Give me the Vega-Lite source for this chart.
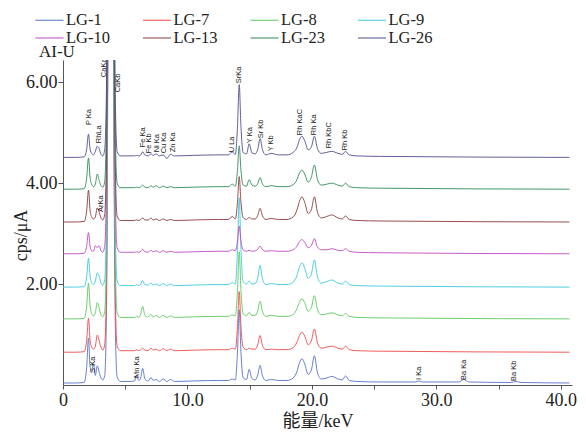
{
"$schema":"https://vega.github.io/schema/vega-lite/v6.json",
"width":509,"height":325,
"autosize":{"type":"none"},
"padding":{"left":63,"top":60,"right":14,"bottom":47},
"config":{"view":{"stroke":null},"font":"Liberation Serif","legend":{"labelFont":"Liberation Serif"}},
"title":{"text":"AI-U","anchor":"start","frame":"group","offset":-50,"dx":-24,"font":"Liberation Serif","fontSize":17,"fontWeight":"normal","color":"#222"},
"datasets":{
"spec":[
{"s":"LG-1","e":0,"c":0.04},{"s":"LG-1","e":1,"c":0.04},{"s":"LG-1","e":1.7,"c":0.05},{"s":"LG-1","e":1.9,"c":0.35},{"s":"LG-1","e":2.05,"c":0.93},{"s":"LG-1","e":2.18,"c":0.35},{"s":"LG-1","e":2.3,"c":0.29},{"s":"LG-1","e":2.45,"c":0.42},{"s":"LG-1","e":2.6,"c":0.19},{"s":"LG-1","e":2.75,"c":0.38},
{"s":"LG-1","e":2.9,"c":0.26},{"s":"LG-1","e":3.05,"c":0.14},{"s":"LG-1","e":3.2,"c":0.10},{"s":"LG-1","e":3.35,"c":0.19},{"s":"LG-1","e":3.5,"c":1.54},{"s":"LG-1","e":3.6,"c":6.04},{"s":"LG-1","e":3.69,"c":10.04},{"s":"LG-1","e":3.85,"c":7.54},{"s":"LG-1","e":4.01,"c":9.04},{"s":"LG-1","e":4.12,"c":3.54},
{"s":"LG-1","e":4.22,"c":0.94},{"s":"LG-1","e":4.35,"c":0.16},{"s":"LG-1","e":4.6,"c":0.07},{"s":"LG-1","e":5.3,"c":0.07},{"s":"LG-1","e":5.75,"c":0.08},{"s":"LG-1","e":5.9,"c":0.19},{"s":"LG-1","e":6.1,"c":0.09},{"s":"LG-1","e":6.25,"c":0.15},{"s":"LG-1","e":6.4,"c":0.33},{"s":"LG-1","e":6.58,"c":0.12},
{"s":"LG-1","e":6.85,"c":0.08},{"s":"LG-1","e":7.06,"c":0.15},{"s":"LG-1","e":7.25,"c":0.09},{"s":"LG-1","e":7.48,"c":0.11},{"s":"LG-1","e":7.75,"c":0.07},{"s":"LG-1","e":8.05,"c":0.12},{"s":"LG-1","e":8.35,"c":0.07},{"s":"LG-1","e":8.64,"c":0.11},{"s":"LG-1","e":8.95,"c":0.07},{"s":"LG-1","e":10.5,"c":0.08},
{"s":"LG-1","e":12.5,"c":0.09},{"s":"LG-1","e":13.3,"c":0.09},{"s":"LG-1","e":13.6,"c":0.12},{"s":"LG-1","e":13.85,"c":0.10},{"s":"LG-1","e":14.02,"c":0.65},{"s":"LG-1","e":14.16,"c":1.49},{"s":"LG-1","e":14.3,"c":0.65},{"s":"LG-1","e":14.47,"c":0.14},{"s":"LG-1","e":14.75,"c":0.11},{"s":"LG-1","e":14.96,"c":0.31},
{"s":"LG-1","e":15.18,"c":0.13},{"s":"LG-1","e":15.45,"c":0.10},{"s":"LG-1","e":15.65,"c":0.20},{"s":"LG-1","e":15.84,"c":0.39},{"s":"LG-1","e":16.03,"c":0.18},{"s":"LG-1","e":16.3,"c":0.09},{"s":"LG-1","e":16.74,"c":0.11},{"s":"LG-1","e":17.3,"c":0.09},{"s":"LG-1","e":18,"c":0.09},{"s":"LG-1","e":18.5,"c":0.14},
{"s":"LG-1","e":18.8,"c":0.27},{"s":"LG-1","e":19,"c":0.44},{"s":"LG-1","e":19.2,"c":0.52},{"s":"LG-1","e":19.42,"c":0.42},{"s":"LG-1","e":19.7,"c":0.21},{"s":"LG-1","e":19.95,"c":0.29},{"s":"LG-1","e":20.2,"c":0.58},{"s":"LG-1","e":20.45,"c":0.24},{"s":"LG-1","e":20.75,"c":0.12},{"s":"LG-1","e":21.2,"c":0.14},
{"s":"LG-1","e":21.6,"c":0.17},{"s":"LG-1","e":22.1,"c":0.12},{"s":"LG-1","e":22.45,"c":0.10},{"s":"LG-1","e":22.7,"c":0.18},{"s":"LG-1","e":23,"c":0.09},{"s":"LG-1","e":23.6,"c":0.07},{"s":"LG-1","e":25.5,"c":0.06},
{"s":"LG-1","e":28.3,"c":0.06},{"s":"LG-1","e":28.6,"c":0.08},{"s":"LG-1","e":28.9,"c":0.06},{"s":"LG-1","e":31.8,"c":0.06},{"s":"LG-1","e":32.2,"c":0.11},{"s":"LG-1","e":32.6,"c":0.06},{"s":"LG-1","e":36,"c":0.05},{"s":"LG-1","e":36.4,"c":0.07},{"s":"LG-1","e":36.8,"c":0.05},{"s":"LG-1","e":40.7,"c":0.04},

{"s":"LG-7","e":0,"c":0.65},{"s":"LG-7","e":1,"c":0.65},{"s":"LG-7","e":1.7,"c":0.66},{"s":"LG-7","e":1.9,"c":0.88},{"s":"LG-7","e":2.05,"c":1.32},{"s":"LG-7","e":2.18,"c":0.88},{"s":"LG-7","e":2.3,"c":0.75},{"s":"LG-7","e":2.45,"c":0.71},{"s":"LG-7","e":2.6,"c":0.77},{"s":"LG-7","e":2.75,"c":0.99},
{"s":"LG-7","e":2.9,"c":0.89},{"s":"LG-7","e":3.05,"c":0.75},{"s":"LG-7","e":3.2,"c":0.69},{"s":"LG-7","e":3.35,"c":0.80},{"s":"LG-7","e":3.5,"c":2.15},{"s":"LG-7","e":3.6,"c":6.65},{"s":"LG-7","e":3.69,"c":10.65},{"s":"LG-7","e":3.85,"c":8.15},{"s":"LG-7","e":4.01,"c":9.65},{"s":"LG-7","e":4.12,"c":4.15},
{"s":"LG-7","e":4.22,"c":1.55},{"s":"LG-7","e":4.35,"c":0.77},{"s":"LG-7","e":4.6,"c":0.68},{"s":"LG-7","e":5.3,"c":0.68},{"s":"LG-7","e":5.75,"c":0.68},{"s":"LG-7","e":5.9,"c":0.70},{"s":"LG-7","e":6.1,"c":0.68},{"s":"LG-7","e":6.25,"c":0.70},{"s":"LG-7","e":6.4,"c":0.73},{"s":"LG-7","e":6.58,"c":0.69},
{"s":"LG-7","e":6.85,"c":0.68},{"s":"LG-7","e":7.06,"c":0.73},{"s":"LG-7","e":7.25,"c":0.69},{"s":"LG-7","e":7.48,"c":0.71},{"s":"LG-7","e":7.75,"c":0.68},{"s":"LG-7","e":8.05,"c":0.72},{"s":"LG-7","e":8.35,"c":0.68},{"s":"LG-7","e":8.64,"c":0.71},{"s":"LG-7","e":8.95,"c":0.68},{"s":"LG-7","e":10.5,"c":0.69},
{"s":"LG-7","e":12.5,"c":0.70},{"s":"LG-7","e":13.3,"c":0.70},{"s":"LG-7","e":13.6,"c":0.73},{"s":"LG-7","e":13.85,"c":0.71},{"s":"LG-7","e":14.02,"c":1.16},{"s":"LG-7","e":14.16,"c":1.85},{"s":"LG-7","e":14.3,"c":1.16},{"s":"LG-7","e":14.47,"c":0.75},{"s":"LG-7","e":14.75,"c":0.70},{"s":"LG-7","e":14.96,"c":0.73},
{"s":"LG-7","e":15.18,"c":0.71},{"s":"LG-7","e":15.45,"c":0.71},{"s":"LG-7","e":15.65,"c":0.80},{"s":"LG-7","e":15.84,"c":0.98},{"s":"LG-7","e":16.03,"c":0.78},{"s":"LG-7","e":16.3,"c":0.70},{"s":"LG-7","e":16.74,"c":0.71},{"s":"LG-7","e":17.3,"c":0.70},{"s":"LG-7","e":18,"c":0.70},{"s":"LG-7","e":18.5,"c":0.74},
{"s":"LG-7","e":18.8,"c":0.85},{"s":"LG-7","e":19,"c":0.98},{"s":"LG-7","e":19.2,"c":1.05},{"s":"LG-7","e":19.42,"c":0.97},{"s":"LG-7","e":19.7,"c":0.80},{"s":"LG-7","e":19.95,"c":0.87},{"s":"LG-7","e":20.2,"c":1.11},{"s":"LG-7","e":20.45,"c":0.83},{"s":"LG-7","e":20.75,"c":0.73},{"s":"LG-7","e":21.2,"c":0.75},
{"s":"LG-7","e":21.6,"c":0.77},{"s":"LG-7","e":22.1,"c":0.73},{"s":"LG-7","e":22.45,"c":0.71},{"s":"LG-7","e":22.7,"c":0.77},{"s":"LG-7","e":23,"c":0.70},{"s":"LG-7","e":23.6,"c":0.68},{"s":"LG-7","e":25.5,"c":0.67},{"s":"LG-7","e":40.7,"c":0.65},

{"s":"LG-8","e":0,"c":1.31},{"s":"LG-8","e":1,"c":1.31},{"s":"LG-8","e":1.7,"c":1.32},{"s":"LG-8","e":1.9,"c":1.56},{"s":"LG-8","e":2.05,"c":2.02},{"s":"LG-8","e":2.18,"c":1.56},{"s":"LG-8","e":2.3,"c":1.41},{"s":"LG-8","e":2.45,"c":1.37},{"s":"LG-8","e":2.6,"c":1.43},{"s":"LG-8","e":2.75,"c":1.63},
{"s":"LG-8","e":2.9,"c":1.53},{"s":"LG-8","e":3.05,"c":1.39},{"s":"LG-8","e":3.2,"c":1.35},{"s":"LG-8","e":3.35,"c":1.46},{"s":"LG-8","e":3.5,"c":2.81},{"s":"LG-8","e":3.6,"c":7.31},{"s":"LG-8","e":3.69,"c":11.31},{"s":"LG-8","e":3.85,"c":8.81},{"s":"LG-8","e":4.01,"c":10.31},{"s":"LG-8","e":4.12,"c":4.81},
{"s":"LG-8","e":4.22,"c":2.21},{"s":"LG-8","e":4.35,"c":1.43},{"s":"LG-8","e":4.6,"c":1.34},{"s":"LG-8","e":5.3,"c":1.34},{"s":"LG-8","e":5.75,"c":1.34},{"s":"LG-8","e":5.9,"c":1.36},{"s":"LG-8","e":6.1,"c":1.34},{"s":"LG-8","e":6.25,"c":1.41},{"s":"LG-8","e":6.4,"c":1.56},{"s":"LG-8","e":6.58,"c":1.38},
{"s":"LG-8","e":6.85,"c":1.35},{"s":"LG-8","e":7.06,"c":1.40},{"s":"LG-8","e":7.25,"c":1.35},{"s":"LG-8","e":7.48,"c":1.38},{"s":"LG-8","e":7.75,"c":1.34},{"s":"LG-8","e":8.05,"c":1.38},{"s":"LG-8","e":8.35,"c":1.34},{"s":"LG-8","e":8.64,"c":1.37},{"s":"LG-8","e":8.95,"c":1.34},{"s":"LG-8","e":10.5,"c":1.35},
{"s":"LG-8","e":12.5,"c":1.36},{"s":"LG-8","e":13.3,"c":1.36},{"s":"LG-8","e":13.6,"c":1.39},{"s":"LG-8","e":13.85,"c":1.37},{"s":"LG-8","e":14.02,"c":1.87},{"s":"LG-8","e":14.16,"c":2.64},{"s":"LG-8","e":14.3,"c":1.87},{"s":"LG-8","e":14.47,"c":1.41},{"s":"LG-8","e":14.75,"c":1.37},{"s":"LG-8","e":14.96,"c":1.44},
{"s":"LG-8","e":15.18,"c":1.38},{"s":"LG-8","e":15.45,"c":1.38},{"s":"LG-8","e":15.65,"c":1.47},{"s":"LG-8","e":15.84,"c":1.66},{"s":"LG-8","e":16.03,"c":1.45},{"s":"LG-8","e":16.3,"c":1.36},{"s":"LG-8","e":16.74,"c":1.38},{"s":"LG-8","e":17.3,"c":1.36},{"s":"LG-8","e":18,"c":1.36},{"s":"LG-8","e":18.5,"c":1.40},
{"s":"LG-8","e":18.8,"c":1.51},{"s":"LG-8","e":19,"c":1.64},{"s":"LG-8","e":19.2,"c":1.71},{"s":"LG-8","e":19.42,"c":1.63},{"s":"LG-8","e":19.7,"c":1.46},{"s":"LG-8","e":19.95,"c":1.53},{"s":"LG-8","e":20.2,"c":1.77},{"s":"LG-8","e":20.45,"c":1.49},{"s":"LG-8","e":20.75,"c":1.39},{"s":"LG-8","e":21.2,"c":1.41},
{"s":"LG-8","e":21.6,"c":1.43},{"s":"LG-8","e":22.1,"c":1.39},{"s":"LG-8","e":22.45,"c":1.37},{"s":"LG-8","e":22.7,"c":1.42},{"s":"LG-8","e":23,"c":1.36},{"s":"LG-8","e":23.6,"c":1.34},{"s":"LG-8","e":25.5,"c":1.33},{"s":"LG-8","e":40.7,"c":1.31},

{"s":"LG-9","e":0,"c":1.94},{"s":"LG-9","e":1,"c":1.94},{"s":"LG-9","e":1.7,"c":1.95},{"s":"LG-9","e":1.9,"c":2.14},{"s":"LG-9","e":2.05,"c":2.51},{"s":"LG-9","e":2.18,"c":2.14},{"s":"LG-9","e":2.3,"c":2.03},{"s":"LG-9","e":2.45,"c":1.99},{"s":"LG-9","e":2.6,"c":2.06},{"s":"LG-9","e":2.75,"c":2.22},
{"s":"LG-9","e":2.9,"c":2.16},{"s":"LG-9","e":3.05,"c":2.02},{"s":"LG-9","e":3.2,"c":1.98},{"s":"LG-9","e":3.35,"c":2.09},{"s":"LG-9","e":3.5,"c":3.44},{"s":"LG-9","e":3.6,"c":7.94},{"s":"LG-9","e":3.69,"c":11.94},{"s":"LG-9","e":3.85,"c":9.44},{"s":"LG-9","e":4.01,"c":10.94},{"s":"LG-9","e":4.12,"c":5.44},
{"s":"LG-9","e":4.22,"c":2.84},{"s":"LG-9","e":4.35,"c":2.06},{"s":"LG-9","e":4.6,"c":1.97},{"s":"LG-9","e":5.3,"c":1.97},{"s":"LG-9","e":5.75,"c":1.97},{"s":"LG-9","e":5.9,"c":1.99},{"s":"LG-9","e":6.1,"c":1.97},{"s":"LG-9","e":6.25,"c":2.00},{"s":"LG-9","e":6.4,"c":2.07},{"s":"LG-9","e":6.58,"c":1.99},
{"s":"LG-9","e":6.85,"c":1.98},{"s":"LG-9","e":7.06,"c":2.02},{"s":"LG-9","e":7.25,"c":1.98},{"s":"LG-9","e":7.48,"c":2.00},{"s":"LG-9","e":7.75,"c":1.97},{"s":"LG-9","e":8.05,"c":2.01},{"s":"LG-9","e":8.35,"c":1.97},{"s":"LG-9","e":8.64,"c":2.00},{"s":"LG-9","e":8.95,"c":1.97},{"s":"LG-9","e":10.5,"c":1.98},
{"s":"LG-9","e":12.5,"c":1.99},{"s":"LG-9","e":13.3,"c":1.99},{"s":"LG-9","e":13.6,"c":2.03},{"s":"LG-9","e":13.85,"c":2.00},{"s":"LG-9","e":14.02,"c":2.68},{"s":"LG-9","e":14.16,"c":3.71},{"s":"LG-9","e":14.3,"c":2.68},{"s":"LG-9","e":14.47,"c":2.05},{"s":"LG-9","e":14.75,"c":2.00},{"s":"LG-9","e":14.96,"c":2.06},
{"s":"LG-9","e":15.18,"c":2.00},{"s":"LG-9","e":15.45,"c":2.01},{"s":"LG-9","e":15.65,"c":2.12},{"s":"LG-9","e":15.84,"c":2.37},{"s":"LG-9","e":16.03,"c":2.10},{"s":"LG-9","e":16.3,"c":1.99},{"s":"LG-9","e":16.74,"c":2.01},{"s":"LG-9","e":17.3,"c":1.99},{"s":"LG-9","e":18,"c":1.99},{"s":"LG-9","e":18.5,"c":2.04},
{"s":"LG-9","e":18.8,"c":2.17},{"s":"LG-9","e":19,"c":2.34},{"s":"LG-9","e":19.2,"c":2.42},{"s":"LG-9","e":19.42,"c":2.32},{"s":"LG-9","e":19.7,"c":2.11},{"s":"LG-9","e":19.95,"c":2.19},{"s":"LG-9","e":20.2,"c":2.48},{"s":"LG-9","e":20.45,"c":2.14},{"s":"LG-9","e":20.75,"c":2.02},{"s":"LG-9","e":21.2,"c":2.05},
{"s":"LG-9","e":21.6,"c":2.08},{"s":"LG-9","e":22.1,"c":2.02},{"s":"LG-9","e":22.45,"c":2.00},{"s":"LG-9","e":22.7,"c":2.06},{"s":"LG-9","e":23,"c":1.99},{"s":"LG-9","e":23.6,"c":1.97},{"s":"LG-9","e":25.5,"c":1.96},{"s":"LG-9","e":40.7,"c":1.94},

{"s":"LG-10","e":0,"c":2.60},{"s":"LG-10","e":1,"c":2.60},{"s":"LG-10","e":1.7,"c":2.61},{"s":"LG-10","e":1.9,"c":2.75},{"s":"LG-10","e":2.05,"c":3.02},{"s":"LG-10","e":2.18,"c":2.75},{"s":"LG-10","e":2.3,"c":2.66},{"s":"LG-10","e":2.45,"c":2.65},{"s":"LG-10","e":2.6,"c":2.76},{"s":"LG-10","e":2.75,"c":2.72},
{"s":"LG-10","e":2.9,"c":2.76},{"s":"LG-10","e":3.05,"c":2.66},{"s":"LG-10","e":3.2,"c":2.63},{"s":"LG-10","e":3.35,"c":2.75},{"s":"LG-10","e":3.5,"c":4.10},{"s":"LG-10","e":3.6,"c":8.60},{"s":"LG-10","e":3.69,"c":12.60},{"s":"LG-10","e":3.85,"c":10.10},{"s":"LG-10","e":4.01,"c":11.60},{"s":"LG-10","e":4.12,"c":6.10},
{"s":"LG-10","e":4.22,"c":3.50},{"s":"LG-10","e":4.35,"c":2.72},{"s":"LG-10","e":4.6,"c":2.63},{"s":"LG-10","e":5.3,"c":2.63},{"s":"LG-10","e":5.75,"c":2.63},{"s":"LG-10","e":5.9,"c":2.64},{"s":"LG-10","e":6.1,"c":2.63},{"s":"LG-10","e":6.25,"c":2.65},{"s":"LG-10","e":6.4,"c":2.69},{"s":"LG-10","e":6.58,"c":2.64},
{"s":"LG-10","e":6.85,"c":2.63},{"s":"LG-10","e":7.06,"c":2.67},{"s":"LG-10","e":7.25,"c":2.64},{"s":"LG-10","e":7.48,"c":2.66},{"s":"LG-10","e":7.75,"c":2.63},{"s":"LG-10","e":8.05,"c":2.66},{"s":"LG-10","e":8.35,"c":2.63},{"s":"LG-10","e":8.64,"c":2.65},{"s":"LG-10","e":8.95,"c":2.63},{"s":"LG-10","e":10.5,"c":2.64},
{"s":"LG-10","e":12.5,"c":2.65},{"s":"LG-10","e":13.3,"c":2.65},{"s":"LG-10","e":13.6,"c":2.68},{"s":"LG-10","e":13.85,"c":2.66},{"s":"LG-10","e":14.02,"c":2.85},{"s":"LG-10","e":14.16,"c":3.15},{"s":"LG-10","e":14.3,"c":2.85},{"s":"LG-10","e":14.47,"c":2.68},{"s":"LG-10","e":14.75,"c":2.65},{"s":"LG-10","e":14.96,"c":2.67},
{"s":"LG-10","e":15.18,"c":2.65},{"s":"LG-10","e":15.45,"c":2.66},{"s":"LG-10","e":15.65,"c":2.69},{"s":"LG-10","e":15.84,"c":2.75},{"s":"LG-10","e":16.03,"c":2.68},{"s":"LG-10","e":16.3,"c":2.65},{"s":"LG-10","e":16.74,"c":2.66},{"s":"LG-10","e":17.3,"c":2.65},{"s":"LG-10","e":18,"c":2.65},{"s":"LG-10","e":18.5,"c":2.68},
{"s":"LG-10","e":18.8,"c":2.75},{"s":"LG-10","e":19,"c":2.84},{"s":"LG-10","e":19.2,"c":2.88},{"s":"LG-10","e":19.42,"c":2.83},{"s":"LG-10","e":19.7,"c":2.72},{"s":"LG-10","e":19.95,"c":2.76},{"s":"LG-10","e":20.2,"c":2.90},{"s":"LG-10","e":20.45,"c":2.73},{"s":"LG-10","e":20.75,"c":2.68},{"s":"LG-10","e":21.2,"c":2.68},
{"s":"LG-10","e":21.6,"c":2.70},{"s":"LG-10","e":22.1,"c":2.67},{"s":"LG-10","e":22.45,"c":2.66},{"s":"LG-10","e":22.7,"c":2.70},{"s":"LG-10","e":23,"c":2.65},{"s":"LG-10","e":23.6,"c":2.63},{"s":"LG-10","e":25.5,"c":2.62},{"s":"LG-10","e":40.7,"c":2.60},

{"s":"LG-13","e":0,"c":3.23},{"s":"LG-13","e":1,"c":3.23},{"s":"LG-13","e":1.7,"c":3.24},{"s":"LG-13","e":1.9,"c":3.45},{"s":"LG-13","e":2.05,"c":3.86},{"s":"LG-13","e":2.18,"c":3.45},{"s":"LG-13","e":2.3,"c":3.33},{"s":"LG-13","e":2.45,"c":3.29},{"s":"LG-13","e":2.6,"c":3.33},{"s":"LG-13","e":2.75,"c":3.51},
{"s":"LG-13","e":2.9,"c":3.43},{"s":"LG-13","e":3.05,"c":3.31},{"s":"LG-13","e":3.2,"c":3.27},{"s":"LG-13","e":3.35,"c":3.38},{"s":"LG-13","e":3.5,"c":4.73},{"s":"LG-13","e":3.6,"c":9.23},{"s":"LG-13","e":3.69,"c":13.23},{"s":"LG-13","e":3.85,"c":10.73},{"s":"LG-13","e":4.01,"c":12.23},{"s":"LG-13","e":4.12,"c":6.73},
{"s":"LG-13","e":4.22,"c":4.13},{"s":"LG-13","e":4.35,"c":3.35},{"s":"LG-13","e":4.6,"c":3.26},{"s":"LG-13","e":5.3,"c":3.26},{"s":"LG-13","e":5.75,"c":3.26},{"s":"LG-13","e":5.9,"c":3.27},{"s":"LG-13","e":6.1,"c":3.26},{"s":"LG-13","e":6.25,"c":3.28},{"s":"LG-13","e":6.4,"c":3.31},{"s":"LG-13","e":6.58,"c":3.27},
{"s":"LG-13","e":6.85,"c":3.27},{"s":"LG-13","e":7.06,"c":3.31},{"s":"LG-13","e":7.25,"c":3.27},{"s":"LG-13","e":7.48,"c":3.29},{"s":"LG-13","e":7.75,"c":3.26},{"s":"LG-13","e":8.05,"c":3.29},{"s":"LG-13","e":8.35,"c":3.26},{"s":"LG-13","e":8.64,"c":3.28},{"s":"LG-13","e":8.95,"c":3.26},{"s":"LG-13","e":10.5,"c":3.27},
{"s":"LG-13","e":12.5,"c":3.28},{"s":"LG-13","e":13.3,"c":3.28},{"s":"LG-13","e":13.6,"c":3.34},{"s":"LG-13","e":13.85,"c":3.29},{"s":"LG-13","e":14.02,"c":3.62},{"s":"LG-13","e":14.16,"c":4.13},{"s":"LG-13","e":14.3,"c":3.62},{"s":"LG-13","e":14.47,"c":3.32},{"s":"LG-13","e":14.75,"c":3.28},{"s":"LG-13","e":14.96,"c":3.32},
{"s":"LG-13","e":15.18,"c":3.29},{"s":"LG-13","e":15.45,"c":3.29},{"s":"LG-13","e":15.65,"c":3.36},{"s":"LG-13","e":15.84,"c":3.50},{"s":"LG-13","e":16.03,"c":3.35},{"s":"LG-13","e":16.3,"c":3.28},{"s":"LG-13","e":16.74,"c":3.30},{"s":"LG-13","e":17.3,"c":3.28},{"s":"LG-13","e":18,"c":3.28},{"s":"LG-13","e":18.5,"c":3.33},
{"s":"LG-13","e":18.8,"c":3.47},{"s":"LG-13","e":19,"c":3.64},{"s":"LG-13","e":19.2,"c":3.73},{"s":"LG-13","e":19.42,"c":3.62},{"s":"LG-13","e":19.7,"c":3.40},{"s":"LG-13","e":19.95,"c":3.47},{"s":"LG-13","e":20.2,"c":3.73},{"s":"LG-13","e":20.45,"c":3.42},{"s":"LG-13","e":20.75,"c":3.31},{"s":"LG-13","e":21.2,"c":3.34},
{"s":"LG-13","e":21.6,"c":3.37},{"s":"LG-13","e":22.1,"c":3.31},{"s":"LG-13","e":22.45,"c":3.29},{"s":"LG-13","e":22.7,"c":3.35},{"s":"LG-13","e":23,"c":3.28},{"s":"LG-13","e":23.6,"c":3.26},{"s":"LG-13","e":25.5,"c":3.25},{"s":"LG-13","e":40.7,"c":3.23},

{"s":"LG-23","e":0,"c":3.88},{"s":"LG-23","e":1,"c":3.88},{"s":"LG-23","e":1.7,"c":3.89},{"s":"LG-23","e":1.9,"c":4.10},{"s":"LG-23","e":2.05,"c":4.50},{"s":"LG-23","e":2.18,"c":4.10},{"s":"LG-23","e":2.3,"c":3.98},{"s":"LG-23","e":2.45,"c":3.93},{"s":"LG-23","e":2.6,"c":3.98},{"s":"LG-23","e":2.75,"c":4.18},
{"s":"LG-23","e":2.9,"c":4.06},{"s":"LG-23","e":3.05,"c":3.95},{"s":"LG-23","e":3.2,"c":3.92},{"s":"LG-23","e":3.35,"c":4.03},{"s":"LG-23","e":3.5,"c":5.38},{"s":"LG-23","e":3.6,"c":9.88},{"s":"LG-23","e":3.69,"c":13.88},{"s":"LG-23","e":3.85,"c":11.38},{"s":"LG-23","e":4.01,"c":12.88},{"s":"LG-23","e":4.12,"c":7.38},
{"s":"LG-23","e":4.22,"c":4.78},{"s":"LG-23","e":4.35,"c":4.00},{"s":"LG-23","e":4.6,"c":3.91},{"s":"LG-23","e":5.3,"c":3.91},{"s":"LG-23","e":5.75,"c":3.91},{"s":"LG-23","e":5.9,"c":3.92},{"s":"LG-23","e":6.1,"c":3.91},{"s":"LG-23","e":6.25,"c":3.93},{"s":"LG-23","e":6.4,"c":3.96},{"s":"LG-23","e":6.58,"c":3.92},
{"s":"LG-23","e":6.85,"c":3.91},{"s":"LG-23","e":7.06,"c":3.95},{"s":"LG-23","e":7.25,"c":3.92},{"s":"LG-23","e":7.48,"c":3.95},{"s":"LG-23","e":7.75,"c":3.91},{"s":"LG-23","e":8.05,"c":3.94},{"s":"LG-23","e":8.35,"c":3.91},{"s":"LG-23","e":8.64,"c":3.93},{"s":"LG-23","e":8.95,"c":3.91},{"s":"LG-23","e":10.5,"c":3.92},
{"s":"LG-23","e":12.5,"c":3.93},{"s":"LG-23","e":13.3,"c":3.93},{"s":"LG-23","e":13.6,"c":3.98},{"s":"LG-23","e":13.85,"c":3.94},{"s":"LG-23","e":14.02,"c":4.25},{"s":"LG-23","e":14.16,"c":4.74},{"s":"LG-23","e":14.3,"c":4.25},{"s":"LG-23","e":14.47,"c":3.96},{"s":"LG-23","e":14.75,"c":3.94},{"s":"LG-23","e":14.96,"c":4.07},
{"s":"LG-23","e":15.18,"c":3.96},{"s":"LG-23","e":15.45,"c":3.94},{"s":"LG-23","e":15.65,"c":3.99},{"s":"LG-23","e":15.84,"c":4.11},{"s":"LG-23","e":16.03,"c":3.98},{"s":"LG-23","e":16.3,"c":3.93},{"s":"LG-23","e":16.74,"c":3.95},{"s":"LG-23","e":17.3,"c":3.93},{"s":"LG-23","e":18,"c":3.93},{"s":"LG-23","e":18.5,"c":3.97},
{"s":"LG-23","e":18.8,"c":4.07},{"s":"LG-23","e":19,"c":4.20},{"s":"LG-23","e":19.2,"c":4.26},{"s":"LG-23","e":19.42,"c":4.18},{"s":"LG-23","e":19.7,"c":4.02},{"s":"LG-23","e":19.95,"c":4.11},{"s":"LG-23","e":20.2,"c":4.36},{"s":"LG-23","e":20.45,"c":4.07},{"s":"LG-23","e":20.75,"c":3.96},{"s":"LG-23","e":21.2,"c":3.98},
{"s":"LG-23","e":21.6,"c":4.00},{"s":"LG-23","e":22.1,"c":3.96},{"s":"LG-23","e":22.45,"c":3.94},{"s":"LG-23","e":22.7,"c":4.00},{"s":"LG-23","e":23,"c":3.93},{"s":"LG-23","e":23.6,"c":3.91},{"s":"LG-23","e":25.5,"c":3.90},{"s":"LG-23","e":40.7,"c":3.88},

{"s":"LG-26","e":0,"c":4.51},{"s":"LG-26","e":1,"c":4.51},{"s":"LG-26","e":1.7,"c":4.52},{"s":"LG-26","e":1.9,"c":4.67},{"s":"LG-26","e":2.05,"c":4.97},{"s":"LG-26","e":2.18,"c":4.67},{"s":"LG-26","e":2.3,"c":4.59},{"s":"LG-26","e":2.45,"c":4.56},{"s":"LG-26","e":2.6,"c":4.63},{"s":"LG-26","e":2.75,"c":4.73},
{"s":"LG-26","e":2.9,"c":4.69},{"s":"LG-26","e":3.05,"c":4.57},{"s":"LG-26","e":3.2,"c":4.54},{"s":"LG-26","e":3.35,"c":4.66},{"s":"LG-26","e":3.5,"c":6.01},{"s":"LG-26","e":3.6,"c":10.51},{"s":"LG-26","e":3.69,"c":14.51},{"s":"LG-26","e":3.85,"c":12.01},{"s":"LG-26","e":4.01,"c":13.51},{"s":"LG-26","e":4.12,"c":8.01},
{"s":"LG-26","e":4.22,"c":5.41},{"s":"LG-26","e":4.35,"c":4.63},{"s":"LG-26","e":4.6,"c":4.54},{"s":"LG-26","e":5.3,"c":4.54},{"s":"LG-26","e":5.75,"c":4.54},{"s":"LG-26","e":5.9,"c":4.55},{"s":"LG-26","e":6.1,"c":4.54},{"s":"LG-26","e":6.25,"c":4.56},{"s":"LG-26","e":6.4,"c":4.62},{"s":"LG-26","e":6.58,"c":4.56},
{"s":"LG-26","e":6.85,"c":4.54},{"s":"LG-26","e":7.06,"c":4.58},{"s":"LG-26","e":7.25,"c":4.55},{"s":"LG-26","e":7.48,"c":4.58},{"s":"LG-26","e":7.75,"c":4.54},{"s":"LG-26","e":8.05,"c":4.56},{"s":"LG-26","e":8.35,"c":4.49},{"s":"LG-26","e":8.64,"c":4.57},{"s":"LG-26","e":8.95,"c":4.54},{"s":"LG-26","e":10.5,"c":4.55},
{"s":"LG-26","e":12.5,"c":4.56},{"s":"LG-26","e":13.3,"c":4.56},{"s":"LG-26","e":13.6,"c":4.62},{"s":"LG-26","e":13.85,"c":4.57},{"s":"LG-26","e":14.02,"c":5.12},{"s":"LG-26","e":14.16,"c":5.95},{"s":"LG-26","e":14.3,"c":5.12},{"s":"LG-26","e":14.47,"c":4.61},{"s":"LG-26","e":14.75,"c":4.58},{"s":"LG-26","e":14.96,"c":4.78},
{"s":"LG-26","e":15.18,"c":4.60},{"s":"LG-26","e":15.45,"c":4.58},{"s":"LG-26","e":15.65,"c":4.67},{"s":"LG-26","e":15.84,"c":4.88},{"s":"LG-26","e":16.03,"c":4.66},{"s":"LG-26","e":16.3,"c":4.56},{"s":"LG-26","e":16.74,"c":4.59},{"s":"LG-26","e":17.3,"c":4.56},{"s":"LG-26","e":18,"c":4.56},{"s":"LG-26","e":18.5,"c":4.61},
{"s":"LG-26","e":18.8,"c":4.71},{"s":"LG-26","e":19,"c":4.86},{"s":"LG-26","e":19.2,"c":4.93},{"s":"LG-26","e":19.42,"c":4.84},{"s":"LG-26","e":19.7,"c":4.66},{"s":"LG-26","e":19.95,"c":4.71},{"s":"LG-26","e":20.2,"c":4.93},{"s":"LG-26","e":20.45,"c":4.68},{"s":"LG-26","e":20.75,"c":4.59},{"s":"LG-26","e":21.2,"c":4.61},
{"s":"LG-26","e":21.6,"c":4.63},{"s":"LG-26","e":22.1,"c":4.59},{"s":"LG-26","e":22.45,"c":4.57},{"s":"LG-26","e":22.7,"c":4.63},{"s":"LG-26","e":23,"c":4.56},{"s":"LG-26","e":23.6,"c":4.54},{"s":"LG-26","e":25.5,"c":4.53},{"s":"LG-26","e":40.7,"c":4.51}
],
"lab":[
{"t":"P Ka","e":2.09,"c":5.15},{"t":"RhLa","e":2.89,"c":4.79},{"t":"CaKa","e":3.3,"c":6.1},{"t":"CaKb","e":4.42,"c":5.8},{"t":"Fe Ka","e":6.43,"c":4.71},{"t":"Fe Kb","e":6.91,"c":4.59},{"t":"Ni Ka","e":7.56,"c":4.61},{"t":"Cu Ka","e":8.12,"c":4.59},{"t":"Zn Ka","e":8.84,"c":4.61},{"t":"U La","e":13.59,"c":4.61},{"t":"SrKa","e":14.15,"c":5.98},{"t":"Y Ka","e":15.03,"c":4.79},{"t":"Sr Kb","e":15.92,"c":4.89},{"t":"Y Kb","e":16.72,"c":4.63},{"t":"Rh KaC","e":19.05,"c":4.95},{"t":"Rh Ka","e":20.18,"c":4.95},{"t":"Rh KbC","e":21.38,"c":4.69},{"t":"Rh Kb","e":22.67,"c":4.65},{"t":"ArKa","e":3.05,"c":3.43},{"t":"S Ka","e":2.41,"c":0.24},{"t":"Mn Ka","e":5.95,"c":0.14},{"t":"I Ka","e":28.62,"c":0.1},{"t":"Ba Ka","e":32.23,"c":0.1},{"t":"Ba Kb","e":36.25,"c":0.08}
]
},
"encoding":{
"x":{"field":"e","type":"quantitative","scale":{"domain":[0,40.9],"nice":false,"zero":false},
 "axis":{"values":[0,5,10,15,20,25,30,35,40],"labelExpr":"datum.value == 0 ? '0' : (datum.value % 10 == 0 ? format(datum.value, '.1f') : '')","labelFlush":false,"labelOverlap":false,"grid":false,"tickSize":4,"labelPadding":2,"labelFont":"Liberation Serif","labelFontSize":18,"labelColor":"#222","domainColor":"#555","tickColor":"#555","title":"能量/keV","titleFont":"'Liberation Serif', 'Noto Sans CJK SC', serif","titleFontSize":18,"titleFontWeight":"normal","titleColor":"#222","titleY":36,"titleBaseline":"middle"}},
"y":{"field":"c","type":"quantitative","scale":{"domain":[0,6.44],"nice":false,"zero":false},
 "axis":{"values":[2,4,6],"format":".2f","grid":false,"tickSize":5,"labelPadding":1,"labelFont":"Liberation Serif","labelFontSize":18,"labelColor":"#222","domainColor":"#555","tickColor":"#555","title":"cps/μA","titleFont":"Liberation Serif","titleFontSize":18,"titleFontWeight":"normal","titleColor":"#222","titleX":-42,"titleY":175,"titleAngle":270,"titleAlign":"center","titleBaseline":"middle"}}
},
"layer":[
{"data":{"name":"spec"},
 "mark":{"type":"line","strokeWidth":0.9,"clip":true,"interpolate":"monotone"},
 "encoding":{"color":{"field":"s","type":"nominal",
  "scale":{"domain":["LG-1","LG-7","LG-8","LG-9","LG-10","LG-13","LG-23","LG-26"],"range":["#5572cc","#f04848","#5cc85c","#3cc8e0","#c048c0","#8b3a3a","#2e8b57","#4e4e90"]},
  "legend":{"orient":"none","legendX":-22.5,"legendY":-49,"direction":"horizontal","columns":4,"title":null,"symbolType":"M-1.65,0H1.65","symbolSize":289,"symbolStrokeWidth":1,"symbolFillColor":"transparent","labelFont":"Liberation Serif","labelFontSize":16.5,"labelColor":"#222","columnPadding":29.5,"rowPadding":0,"labelOffset":7.5,"padding":0}}}},
{"data":{"name":"lab"},
 "mark":{"type":"text","angle":270,"align":"left","baseline":"middle","font":"Liberation Sans","fontSize":7.5,"color":"#222","clip":true},
 "encoding":{"text":{"field":"t"}}}
]
}
